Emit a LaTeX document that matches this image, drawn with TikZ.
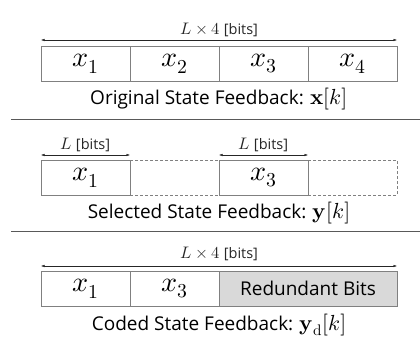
\documentclass[tikz,border=0pt]{standalone}
\usepackage{amsmath}
\usepackage{fontspec}
\usepackage{unicode-math}
\setmainfont{Open Sans}
\setmathfont{Latin Modern Math}[Scale=1.15]
\usepackage{tikz}
\usetikzlibrary{positioning,arrows.meta}

\tikzset{
  cell/.style={draw=black!50, outer sep=0pt, inner sep=0pt,
    minimum width=89pt, minimum height=35pt, font=\fontsize{24.5}{27}\selectfont},
  blank/.style={cell, densely dashed},
  redund/.style={cell, fill=black!15, minimum width=178pt, font=\fontsize{19}{21}\selectfont},
  span/.style={<->, >={Latex[length=3.5pt,width=2.5pt]}, black!85, thin},
  spanlabel/.style={anchor=base, inner sep=0pt, font=\fontsize{14.5}{17}\selectfont},
  caption/.style={anchor=base, inner sep=0pt, font=\fontsize{19}{21}\selectfont},
  divider/.style={black!65, line width=1pt}
}

\begin{document}
\begin{tikzpicture}[x=1pt, y=1pt]
\useasboundingbox (0,0) rectangle (420,341);

% original feedback x[k]
\node[cell] (o1) at (85.5,277.5) {$x_1$};
\node[cell, right=0pt of o1] (o2) {$x_2$};
\node[cell, right=0pt of o2] (o3) {$x_3$};
\node[cell, right=0pt of o3] (o4) {$x_4$};
\draw[span] ([yshift=6pt]o1.north west) -- ([yshift=6pt]o4.north east)
  node[spanlabel, midway, yshift=5pt] {$L \times 4$ [bits]};
\node[caption] (capo) at ([yshift=-23pt]o2.south east) {Original State Feedback: $\symbf{x}[k]$};

\draw[divider] (11,222) -- (420,222);

% selected feedback y[k]
\node[cell] (s1) at (85.5,163.5) {$x_1$};
\node[blank, right=0pt of s1] (s2) {};
\node[cell, right=0pt of s2] (s3) {$x_3$};
\node[blank, right=0pt of s3] (s4) {};
\draw[span] ([yshift=5pt]s1.north west) -- ([yshift=5pt]s1.north east)
  node[spanlabel, midway, yshift=6pt] {$L$ [bits]};
\draw[span] ([yshift=5pt]s3.north west) -- ([yshift=5pt]s3.north east)
  node[spanlabel, midway, yshift=6pt] {$L$ [bits]};
\node[caption] (caps) at ([yshift=-23pt]s2.south east) {Selected State Feedback: $\symbf{y}[k]$};

\draw[divider] (11,110) -- (420,110);

% coded feedback y_d[k]
\node[cell] (c1) at (85.5,52.5) {$x_1$};
\node[cell, right=0pt of c1] (c2) {$x_3$};
\node[redund, right=0pt of c2] (c3) {Redundant Bits};
\draw[span] ([yshift=5pt]c1.north west) -- ([yshift=5pt]c3.north east)
  node[spanlabel, midway, yshift=8pt] {$L \times 4$ [bits]};
\node[caption] (capc) at ([yshift=-24pt]c2.south east) {Coded State Feedback: $\symbf{y}_{\symrm{d}}[k]$};
\end{tikzpicture}
\end{document}
